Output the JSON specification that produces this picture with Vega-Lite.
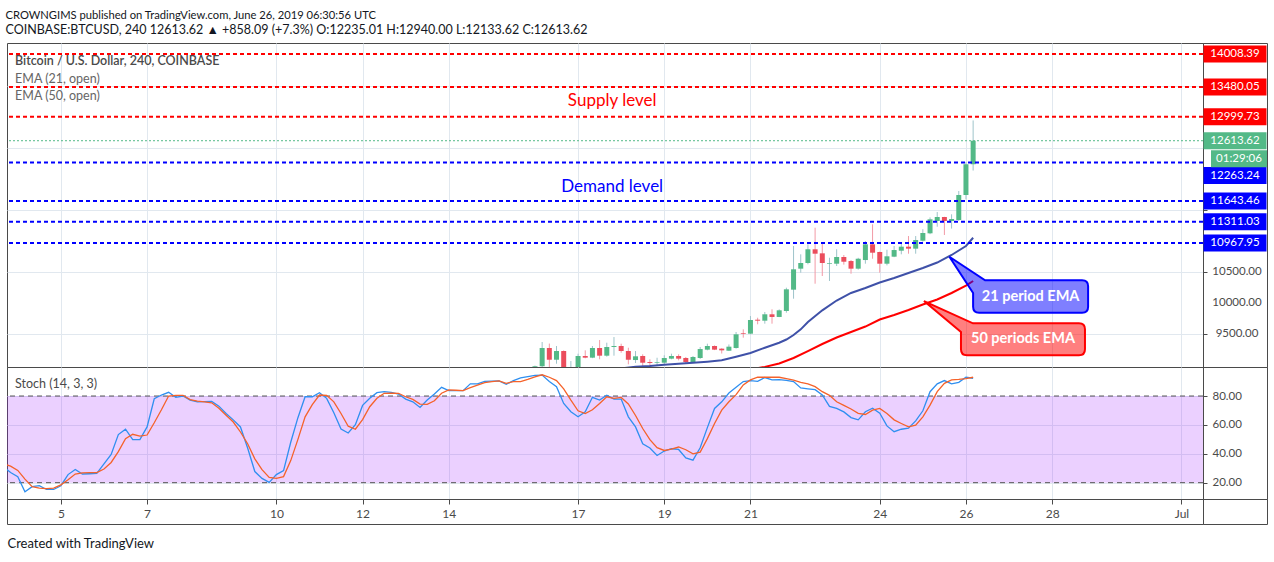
{
"$schema":"https://vega.github.io/schema/vega-lite/v6.json",
"background":"white",
"padding":{"left":5,"top":9,"right":4,"bottom":4},
"title":{"text":"CROWNGIMS published on TradingView.com, June 26, 2019 06:30:56 UTC","subtitle":"COINBASE:BTCUSD, 240  12613.62 ▲ +858.09 (+7.3%)  O:12235.01  H:12940.00  L:12133.62  C:12613.62","anchor":"start","font":"Lato","fontSize":11.2,"fontWeight":"normal","color":"#131722","subtitleFont":"Lato","subtitleFontSize":12.5,"subtitleColor":"#131722","subtitlePadding":3,"offset":6},
"datasets":{
"candles":[
{"t":"2019-06-16T00:00Z","o":8950,"h":8995,"l":8800,"c":8985},
{"t":"2019-06-16T04:00Z","o":8985,"h":9375,"l":8880,"c":9279},
{"t":"2019-06-16T08:00Z","o":9279,"h":9350,"l":8960,"c":9090},
{"t":"2019-06-16T12:00Z","o":9090,"h":9311,"l":9026,"c":9230},
{"t":"2019-06-16T16:00Z","o":9230,"h":9240,"l":8880,"c":8930},
{"t":"2019-06-16T20:00Z","o":8930,"h":9069,"l":8850,"c":8950},
{"t":"2019-06-17T00:00Z","o":8950,"h":9187,"l":8920,"c":9150},
{"t":"2019-06-17T04:00Z","o":9150,"h":9241,"l":9113,"c":9123},
{"t":"2019-06-17T08:00Z","o":9123,"h":9311,"l":9115,"c":9279},
{"t":"2019-06-17T12:00Z","o":9279,"h":9407,"l":9097,"c":9155},
{"t":"2019-06-17T16:00Z","o":9155,"h":9364,"l":9139,"c":9295},
{"t":"2019-06-17T20:00Z","o":9295,"h":9455,"l":9155,"c":9311},
{"t":"2019-06-18T00:00Z","o":9311,"h":9348,"l":9203,"c":9230},
{"t":"2019-06-18T04:00Z","o":9230,"h":9283,"l":9016,"c":9090},
{"t":"2019-06-18T08:00Z","o":9085,"h":9230,"l":9037,"c":9145},
{"t":"2019-06-18T12:00Z","o":9150,"h":9177,"l":8975,"c":9042},
{"t":"2019-06-18T16:00Z","o":9053,"h":9097,"l":8984,"c":9037},
{"t":"2019-06-18T20:00Z","o":9042,"h":9122,"l":8989,"c":9053},
{"t":"2019-06-19T00:00Z","o":9042,"h":9161,"l":9016,"c":9118},
{"t":"2019-06-19T04:00Z","o":9107,"h":9187,"l":9097,"c":9150},
{"t":"2019-06-19T08:00Z","o":9150,"h":9177,"l":9080,"c":9107},
{"t":"2019-06-19T12:00Z","o":9118,"h":9134,"l":9026,"c":9053},
{"t":"2019-06-19T16:00Z","o":9049,"h":9150,"l":9040,"c":9134},
{"t":"2019-06-19T20:00Z","o":9118,"h":9295,"l":9102,"c":9262},
{"t":"2019-06-20T00:00Z","o":9252,"h":9348,"l":9241,"c":9311},
{"t":"2019-06-20T04:00Z","o":9311,"h":9320,"l":9245,"c":9252},
{"t":"2019-06-20T08:00Z","o":9268,"h":9275,"l":9190,"c":9241},
{"t":"2019-06-20T12:00Z","o":9235,"h":9336,"l":9230,"c":9300},
{"t":"2019-06-20T16:00Z","o":9279,"h":9536,"l":9268,"c":9499},
{"t":"2019-06-20T20:00Z","o":9520,"h":9579,"l":9445,"c":9509},
{"t":"2019-06-21T00:00Z","o":9509,"h":9793,"l":9499,"c":9729},
{"t":"2019-06-21T04:00Z","o":9734,"h":9766,"l":9660,"c":9718},
{"t":"2019-06-21T08:00Z","o":9718,"h":9858,"l":9670,"c":9821},
{"t":"2019-06-21T12:00Z","o":9821,"h":9901,"l":9670,"c":9778},
{"t":"2019-06-21T16:00Z","o":9778,"h":9900,"l":9775,"c":9885},
{"t":"2019-06-21T20:00Z","o":9874,"h":10249,"l":9847,"c":10223},
{"t":"2019-06-22T00:00Z","o":10217,"h":10920,"l":10072,"c":10545},
{"t":"2019-06-22T04:00Z","o":10555,"h":10786,"l":10490,"c":10646},
{"t":"2019-06-22T08:00Z","o":10646,"h":10947,"l":10625,"c":10867},
{"t":"2019-06-22T12:00Z","o":10867,"h":11214,"l":10313,"c":10796},
{"t":"2019-06-22T16:00Z","o":10802,"h":10984,"l":10437,"c":10646},
{"t":"2019-06-22T20:00Z","o":10635,"h":10731,"l":10357,"c":10646},
{"t":"2019-06-23T00:00Z","o":10635,"h":10867,"l":10598,"c":10743},
{"t":"2019-06-23T04:00Z","o":10743,"h":10775,"l":10620,"c":10667},
{"t":"2019-06-23T08:00Z","o":10678,"h":10694,"l":10474,"c":10555},
{"t":"2019-06-23T12:00Z","o":10555,"h":10730,"l":10540,"c":10715},
{"t":"2019-06-23T16:00Z","o":10694,"h":11000,"l":10635,"c":10947},
{"t":"2019-06-23T20:00Z","o":10947,"h":11269,"l":10715,"c":10812},
{"t":"2019-06-24T00:00Z","o":10823,"h":10830,"l":10490,"c":10635},
{"t":"2019-06-24T04:00Z","o":10635,"h":10860,"l":10608,"c":10754},
{"t":"2019-06-24T08:00Z","o":10748,"h":10920,"l":10740,"c":10855},
{"t":"2019-06-24T12:00Z","o":10844,"h":10952,"l":10786,"c":10909},
{"t":"2019-06-24T16:00Z","o":10909,"h":11080,"l":10796,"c":10877},
{"t":"2019-06-24T20:00Z","o":10877,"h":11080,"l":10796,"c":11016},
{"t":"2019-06-25T00:00Z","o":11005,"h":11190,"l":10990,"c":11129},
{"t":"2019-06-25T04:00Z","o":11124,"h":11380,"l":11110,"c":11349},
{"t":"2019-06-25T08:00Z","o":11322,"h":11466,"l":11230,"c":11386},
{"t":"2019-06-25T12:00Z","o":11386,"h":11390,"l":11097,"c":11322},
{"t":"2019-06-25T16:00Z","o":11322,"h":11430,"l":11200,"c":11354},
{"t":"2019-06-25T20:00Z","o":11338,"h":11805,"l":11322,"c":11740},
{"t":"2019-06-26T00:00Z","o":11740,"h":12270,"l":11670,"c":12235},
{"t":"2019-06-26T04:00Z","o":12235.01,"h":12940,"l":12133.62,"c":12613.62}
],
"ema":[
{"t":"2019-06-18T00:00Z","len":"21","v":8950},
{"t":"2019-06-18T08:00Z","len":"21","v":8978},
{"t":"2019-06-18T16:00Z","len":"21","v":8990},
{"t":"2019-06-19T00:00Z","len":"21","v":9010},
{"t":"2019-06-19T08:00Z","len":"21","v":9024},
{"t":"2019-06-19T16:00Z","len":"21","v":9040},
{"t":"2019-06-20T00:00Z","len":"21","v":9058},
{"t":"2019-06-20T08:00Z","len":"21","v":9081},
{"t":"2019-06-20T16:00Z","len":"21","v":9139},
{"t":"2019-06-21T00:00Z","len":"21","v":9198},
{"t":"2019-06-21T08:00Z","len":"21","v":9283},
{"t":"2019-06-21T16:00Z","len":"21","v":9364},
{"t":"2019-06-21T20:00Z","len":"21","v":9415},
{"t":"2019-06-22T00:00Z","len":"21","v":9488},
{"t":"2019-06-22T04:00Z","len":"21","v":9579},
{"t":"2019-06-22T08:00Z","len":"21","v":9697},
{"t":"2019-06-22T16:00Z","len":"21","v":9885},
{"t":"2019-06-23T00:00Z","len":"21","v":10043},
{"t":"2019-06-23T08:00Z","len":"21","v":10164},
{"t":"2019-06-23T16:00Z","len":"21","v":10244},
{"t":"2019-06-24T00:00Z","len":"21","v":10332},
{"t":"2019-06-24T08:00Z","len":"21","v":10405},
{"t":"2019-06-24T16:00Z","len":"21","v":10485},
{"t":"2019-06-25T00:00Z","len":"21","v":10566},
{"t":"2019-06-25T08:00Z","len":"21","v":10654},
{"t":"2019-06-25T16:00Z","len":"21","v":10775},
{"t":"2019-06-26T00:00Z","len":"21","v":10920},
{"t":"2019-06-26T04:00Z","len":"21","v":11053},
{"t":"2019-06-20T16:00Z","len":"50","v":8900},
{"t":"2019-06-21T00:00Z","len":"50","v":8935},
{"t":"2019-06-21T08:00Z","len":"50","v":8975},
{"t":"2019-06-21T16:00Z","len":"50","v":9029},
{"t":"2019-06-22T00:00Z","len":"50","v":9118},
{"t":"2019-06-22T08:00Z","len":"50","v":9230},
{"t":"2019-06-22T16:00Z","len":"50","v":9343},
{"t":"2019-06-23T00:00Z","len":"50","v":9447},
{"t":"2019-06-23T08:00Z","len":"50","v":9536},
{"t":"2019-06-23T16:00Z","len":"50","v":9624},
{"t":"2019-06-24T00:00Z","len":"50","v":9737},
{"t":"2019-06-24T08:00Z","len":"50","v":9810},
{"t":"2019-06-24T16:00Z","len":"50","v":9890},
{"t":"2019-06-25T00:00Z","len":"50","v":9979},
{"t":"2019-06-25T08:00Z","len":"50","v":10059},
{"t":"2019-06-25T16:00Z","len":"50","v":10164},
{"t":"2019-06-26T00:00Z","len":"50","v":10284},
{"t":"2019-06-26T04:00Z","len":"50","v":10357}
],
"levels":[
{"v":14008.39,"kind":"supply"},
{"v":13480.05,"kind":"supply"},
{"v":12999.73,"kind":"supply"},
{"v":12613.62,"kind":"last"},
{"v":12263.24,"kind":"demand"},
{"v":11643.46,"kind":"demand"},
{"v":11311.03,"kind":"demand"},
{"v":10967.95,"kind":"demand"}
],
"stoch":[
{"t":"2019-06-03T16:00Z","k":31,"d":33},
{"t":"2019-06-03T20:00Z","k":27,"d":31.5},
{"t":"2019-06-04T00:00Z","k":24.2,"d":28.5},
{"t":"2019-06-04T04:00Z","k":13.7,"d":22.5},
{"t":"2019-06-04T08:00Z","k":17.2,"d":17.2},
{"t":"2019-06-04T12:00Z","k":17.9,"d":16.3},
{"t":"2019-06-04T16:00Z","k":15.3,"d":15.9},
{"t":"2019-06-04T20:00Z","k":15.3,"d":16.3},
{"t":"2019-06-05T00:00Z","k":17.9,"d":18.5},
{"t":"2019-06-05T04:00Z","k":25.6,"d":22},
{"t":"2019-06-05T08:00Z","k":29.1,"d":26},
{"t":"2019-06-05T12:00Z","k":26,"d":26.8},
{"t":"2019-06-05T16:00Z","k":26.2,"d":27},
{"t":"2019-06-05T20:00Z","k":26.5,"d":27},
{"t":"2019-06-06T00:00Z","k":33,"d":29.5},
{"t":"2019-06-06T04:00Z","k":39.5,"d":34},
{"t":"2019-06-06T08:00Z","k":53.3,"d":41.5},
{"t":"2019-06-06T12:00Z","k":57,"d":50.5},
{"t":"2019-06-06T16:00Z","k":49.8,"d":53.5},
{"t":"2019-06-06T20:00Z","k":49.8,"d":52.3},
{"t":"2019-06-07T00:00Z","k":58.6,"d":53},
{"t":"2019-06-07T04:00Z","k":78.1,"d":61.5},
{"t":"2019-06-07T08:00Z","k":80.7,"d":70.5},
{"t":"2019-06-07T12:00Z","k":82.6,"d":80},
{"t":"2019-06-07T16:00Z","k":79.1,"d":80.5},
{"t":"2019-06-07T20:00Z","k":80,"d":80.5},
{"t":"2019-06-08T00:00Z","k":77.2,"d":77.5},
{"t":"2019-06-08T04:00Z","k":76,"d":76.5},
{"t":"2019-06-08T08:00Z","k":76.1,"d":76},
{"t":"2019-06-08T12:00Z","k":76.3,"d":75.3},
{"t":"2019-06-08T16:00Z","k":73,"d":71.5},
{"t":"2019-06-08T20:00Z","k":67.9,"d":66.7},
{"t":"2019-06-09T00:00Z","k":63.5,"d":62},
{"t":"2019-06-09T04:00Z","k":58.6,"d":55.1},
{"t":"2019-06-09T08:00Z","k":44,"d":47},
{"t":"2019-06-09T12:00Z","k":27.7,"d":36.5},
{"t":"2019-06-09T16:00Z","k":23,"d":29},
{"t":"2019-06-09T20:00Z","k":20.2,"d":23.7},
{"t":"2019-06-10T00:00Z","k":25.6,"d":23},
{"t":"2019-06-10T04:00Z","k":28.4,"d":24.2},
{"t":"2019-06-10T08:00Z","k":48,"d":35.3},
{"t":"2019-06-10T12:00Z","k":65,"d":50},
{"t":"2019-06-10T16:00Z","k":79.5,"d":65.6},
{"t":"2019-06-10T20:00Z","k":79.5,"d":74},
{"t":"2019-06-11T00:00Z","k":82.3,"d":80.7},
{"t":"2019-06-11T04:00Z","k":78.4,"d":80.5},
{"t":"2019-06-11T08:00Z","k":68.4,"d":76},
{"t":"2019-06-11T12:00Z","k":57.2,"d":67.9},
{"t":"2019-06-11T16:00Z","k":54.4,"d":59.1},
{"t":"2019-06-11T20:00Z","k":60.2,"d":57},
{"t":"2019-06-12T00:00Z","k":73.5,"d":63.7},
{"t":"2019-06-12T04:00Z","k":78.5,"d":72.6},
{"t":"2019-06-12T08:00Z","k":82.3,"d":78.4},
{"t":"2019-06-12T12:00Z","k":83,"d":81.9},
{"t":"2019-06-12T16:00Z","k":82.5,"d":82},
{"t":"2019-06-12T20:00Z","k":81.4,"d":81.9},
{"t":"2019-06-13T00:00Z","k":77.9,"d":79.5},
{"t":"2019-06-13T04:00Z","k":76,"d":77.7},
{"t":"2019-06-13T08:00Z","k":72.1,"d":74.4},
{"t":"2019-06-13T12:00Z","k":77.2,"d":74.2},
{"t":"2019-06-13T16:00Z","k":81.4,"d":76.7},
{"t":"2019-06-13T20:00Z","k":86,"d":81.9},
{"t":"2019-06-14T00:00Z","k":83.7,"d":84.2},
{"t":"2019-06-14T04:00Z","k":83.7,"d":84},
{"t":"2019-06-14T08:00Z","k":83.7,"d":83.7},
{"t":"2019-06-14T12:00Z","k":88.4,"d":85.8},
{"t":"2019-06-14T16:00Z","k":88.4,"d":87.5},
{"t":"2019-06-14T20:00Z","k":90.2,"d":89.3},
{"t":"2019-06-15T00:00Z","k":90.3,"d":90},
{"t":"2019-06-15T04:00Z","k":90.5,"d":90.5},
{"t":"2019-06-15T08:00Z","k":88.1,"d":88.8},
{"t":"2019-06-15T12:00Z","k":90.7,"d":90},
{"t":"2019-06-15T16:00Z","k":92.5,"d":90},
{"t":"2019-06-15T20:00Z","k":93.5,"d":91.5},
{"t":"2019-06-16T00:00Z","k":94.3,"d":93.2},
{"t":"2019-06-16T04:00Z","k":94.5,"d":94.7},
{"t":"2019-06-16T08:00Z","k":90,"d":93},
{"t":"2019-06-16T12:00Z","k":86.5,"d":90.7},
{"t":"2019-06-16T16:00Z","k":74.9,"d":85},
{"t":"2019-06-16T20:00Z","k":69.1,"d":77.2},
{"t":"2019-06-17T00:00Z","k":65.6,"d":69.8},
{"t":"2019-06-17T04:00Z","k":69.1,"d":67.9},
{"t":"2019-06-17T08:00Z","k":79.1,"d":70.5},
{"t":"2019-06-17T12:00Z","k":77.2,"d":74.9},
{"t":"2019-06-17T16:00Z","k":80.5,"d":79.5},
{"t":"2019-06-17T20:00Z","k":77.9,"d":78.4},
{"t":"2019-06-18T00:00Z","k":77.9,"d":79},
{"t":"2019-06-18T04:00Z","k":65.6,"d":74.5},
{"t":"2019-06-18T08:00Z","k":58.6,"d":66.5},
{"t":"2019-06-18T12:00Z","k":47,"d":57.5},
{"t":"2019-06-18T16:00Z","k":44,"d":49.8},
{"t":"2019-06-18T20:00Z","k":38.8,"d":44.2},
{"t":"2019-06-19T00:00Z","k":41.9,"d":42.3},
{"t":"2019-06-19T04:00Z","k":43.5,"d":43.3},
{"t":"2019-06-19T08:00Z","k":43,"d":44.7},
{"t":"2019-06-19T12:00Z","k":37.2,"d":42.8},
{"t":"2019-06-19T16:00Z","k":35.6,"d":40},
{"t":"2019-06-19T20:00Z","k":44.2,"d":41.2},
{"t":"2019-06-20T00:00Z","k":58.1,"d":50.5},
{"t":"2019-06-20T04:00Z","k":71.4,"d":61},
{"t":"2019-06-20T08:00Z","k":76,"d":70.2},
{"t":"2019-06-20T12:00Z","k":82.1,"d":76},
{"t":"2019-06-20T16:00Z","k":86,"d":81},
{"t":"2019-06-20T20:00Z","k":90,"d":87.7},
{"t":"2019-06-21T00:00Z","k":90.7,"d":91.2},
{"t":"2019-06-21T04:00Z","k":90.2,"d":93},
{"t":"2019-06-21T08:00Z","k":92.8,"d":93},
{"t":"2019-06-21T12:00Z","k":91.2,"d":93},
{"t":"2019-06-21T16:00Z","k":91.4,"d":93},
{"t":"2019-06-21T20:00Z","k":90.8,"d":92},
{"t":"2019-06-22T00:00Z","k":90,"d":91},
{"t":"2019-06-22T04:00Z","k":85.6,"d":89.5},
{"t":"2019-06-22T08:00Z","k":85,"d":88.4},
{"t":"2019-06-22T12:00Z","k":84.4,"d":86.5},
{"t":"2019-06-22T16:00Z","k":80.7,"d":83},
{"t":"2019-06-22T20:00Z","k":72.8,"d":80.5},
{"t":"2019-06-23T00:00Z","k":71.5,"d":76},
{"t":"2019-06-23T04:00Z","k":69,"d":73.5},
{"t":"2019-06-23T08:00Z","k":65.1,"d":71},
{"t":"2019-06-23T12:00Z","k":63.5,"d":68},
{"t":"2019-06-23T16:00Z","k":69.1,"d":67.2},
{"t":"2019-06-23T20:00Z","k":71.6,"d":70.2},
{"t":"2019-06-24T00:00Z","k":68.1,"d":71.4},
{"t":"2019-06-24T04:00Z","k":59.3,"d":67.9},
{"t":"2019-06-24T08:00Z","k":55.3,"d":63.5},
{"t":"2019-06-24T12:00Z","k":57,"d":61},
{"t":"2019-06-24T16:00Z","k":57.7,"d":58.6},
{"t":"2019-06-24T20:00Z","k":62.8,"d":59.8},
{"t":"2019-06-25T00:00Z","k":69.8,"d":65.6},
{"t":"2019-06-25T04:00Z","k":83,"d":73.7},
{"t":"2019-06-25T08:00Z","k":88.4,"d":83},
{"t":"2019-06-25T12:00Z","k":90.7,"d":88.8},
{"t":"2019-06-25T16:00Z","k":88.4,"d":91.2},
{"t":"2019-06-25T20:00Z","k":89.5,"d":91.5},
{"t":"2019-06-26T00:00Z","k":93,"d":92},
{"t":"2019-06-26T04:00Z","k":92.3,"d":93}
]
},
"columns":2,
"spacing":0,
"bounds":"flush",
"align":"each",
"concat":[
{
"width":1196,"height":324,
"layer":[
{"data":{"name":"candles"},"transform":[{"filter":"datum.c >= datum.o"}],"mark":{"type":"rule","clip":true,"strokeWidth":1,"color":"#9ec4ca"},
 "encoding":{
  "x":{"field":"t","type":"temporal","title":null,"scale":{"type":"utc","domain":[{"year":2019,"month":6,"date":3,"hours":18,"utc":true},{"year":2019,"month":7,"date":1,"hours":12,"utc":true}],"nice":false,"padding":0},
   "axis":{"values":[{"year":2019,"month":6,"date":5,"utc":true},{"year":2019,"month":6,"date":7,"utc":true},{"year":2019,"month":6,"date":10,"utc":true},{"year":2019,"month":6,"date":12,"utc":true},{"year":2019,"month":6,"date":14,"utc":true},{"year":2019,"month":6,"date":17,"utc":true},{"year":2019,"month":6,"date":19,"utc":true},{"year":2019,"month":6,"date":21,"utc":true},{"year":2019,"month":6,"date":24,"utc":true},{"year":2019,"month":6,"date":26,"utc":true},{"year":2019,"month":6,"date":28,"utc":true},{"year":2019,"month":7,"date":1,"utc":true}],"labels":false,"ticks":false,"domain":false,"grid":true,"gridColor":"#e1e8ef"}},
  "y":{"field":"l","type":"quantitative","title":null,"scale":{"domain":[8973,14186],"nice":false,"zero":false,"padding":0},
   "axis":{"orient":"right","values":[9500,10000,10500,11000,11500,12000,12500,13000,13500,14000],"labels":false,"grid":true,"gridColor":"#e1e8ef","domain":false,"tickSize":4,"tickColor":"#4a4a4a"}},
  "y2":{"field":"h"}}},
{"data":{"name":"candles"},"transform":[{"filter":"datum.c < datum.o"}],"mark":{"type":"rule","clip":true,"strokeWidth":1,"color":"#f29aa6"},
 "encoding":{
  "x":{"field":"t","type":"temporal","title":null,"scale":{"type":"utc","domain":[{"year":2019,"month":6,"date":3,"hours":18,"utc":true},{"year":2019,"month":7,"date":1,"hours":12,"utc":true}],"nice":false,"padding":0}},
  "y":{"field":"l","type":"quantitative","title":null,"scale":{"domain":[8973,14186],"nice":false,"zero":false,"padding":0}},
  "y2":{"field":"h"}}},
{"data":{"name":"candles"},"transform":[{"filter":"datum.c >= datum.o"}],"mark":{"type":"bar","width":5,"clip":true,"color":"#53b987"},
 "encoding":{
  "x":{"field":"t","type":"temporal","title":null,"scale":{"type":"utc","domain":[{"year":2019,"month":6,"date":3,"hours":18,"utc":true},{"year":2019,"month":7,"date":1,"hours":12,"utc":true}],"nice":false,"padding":0}},
  "y":{"field":"o","type":"quantitative","title":null,"scale":{"domain":[8973,14186],"nice":false,"zero":false,"padding":0}},
  "y2":{"field":"c"}}},
{"data":{"name":"candles"},"transform":[{"filter":"datum.c < datum.o"}],"mark":{"type":"bar","width":5,"clip":true,"color":"#eb4d5c"},
 "encoding":{
  "x":{"field":"t","type":"temporal","title":null,"scale":{"type":"utc","domain":[{"year":2019,"month":6,"date":3,"hours":18,"utc":true},{"year":2019,"month":7,"date":1,"hours":12,"utc":true}],"nice":false,"padding":0}},
  "y":{"field":"o","type":"quantitative","title":null,"scale":{"domain":[8973,14186],"nice":false,"zero":false,"padding":0}},
  "y2":{"field":"c"}}},
{"data":{"name":"ema"},"transform":[{"filter":"datum.len == '21'"}],"mark":{"type":"line","clip":true,"color":"#3f51a8","strokeWidth":2},
 "encoding":{
  "x":{"field":"t","type":"temporal","title":null,"scale":{"type":"utc","domain":[{"year":2019,"month":6,"date":3,"hours":18,"utc":true},{"year":2019,"month":7,"date":1,"hours":12,"utc":true}],"nice":false,"padding":0}},
  "y":{"field":"v","type":"quantitative","title":null,"scale":{"domain":[8973,14186],"nice":false,"zero":false,"padding":0}}}},
{"data":{"name":"ema"},"transform":[{"filter":"datum.len == '50'"}],"mark":{"type":"line","clip":true,"color":"#ff0000","strokeWidth":2},
 "encoding":{
  "x":{"field":"t","type":"temporal","title":null,"scale":{"type":"utc","domain":[{"year":2019,"month":6,"date":3,"hours":18,"utc":true},{"year":2019,"month":7,"date":1,"hours":12,"utc":true}],"nice":false,"padding":0}},
  "y":{"field":"v","type":"quantitative","title":null,"scale":{"domain":[8973,14186],"nice":false,"zero":false,"padding":0}}}},
{"data":{"name":"levels"},"transform":[{"filter":"datum.kind == 'supply'"}],"mark":{"type":"rule","strokeWidth":2,"strokeDash":[4,3],"color":"#ff0000"},
 "encoding":{
  "y":{"field":"v","type":"quantitative","title":null,"scale":{"domain":[8973,14186],"nice":false,"zero":false,"padding":0}}}},
{"data":{"name":"levels"},"transform":[{"filter":"datum.kind == 'demand'"}],"mark":{"type":"rule","strokeWidth":2,"strokeDash":[4,3],"color":"#0000ff"},
 "encoding":{
  "y":{"field":"v","type":"quantitative","title":null,"scale":{"domain":[8973,14186],"nice":false,"zero":false,"padding":0}}}},
{"data":{"name":"levels"},"transform":[{"filter":"datum.kind == 'last'"}],"mark":{"type":"rule","strokeWidth":1,"strokeDash":[2,2],"color":"#53b987"},
 "encoding":{
  "y":{"field":"v","type":"quantitative","title":null,"scale":{"domain":[8973,14186],"nice":false,"zero":false,"padding":0}}}},
{"data":{"values":[{"t":"2019-06-17T19:00Z","p":13253,"label":"Supply level"}]},"mark":{"type":"text","color":"#ff0000","fontSize":17,"align":"center","baseline":"middle"},
 "encoding":{
  "x":{"field":"t","type":"temporal","title":null,"scale":{"type":"utc","domain":[{"year":2019,"month":6,"date":3,"hours":18,"utc":true},{"year":2019,"month":7,"date":1,"hours":12,"utc":true}],"nice":false,"padding":0}},
  "y":{"field":"p","type":"quantitative","title":null,"scale":{"domain":[8973,14186],"nice":false,"zero":false,"padding":0}},
  "text":{"field":"label"}}},
{"data":{"values":[{"t":"2019-06-17T19:00Z","p":11869,"label":"Demand level"}]},"mark":{"type":"text","color":"#0000ff","fontSize":17,"align":"center","baseline":"middle"},
 "encoding":{
  "x":{"field":"t","type":"temporal","title":null,"scale":{"type":"utc","domain":[{"year":2019,"month":6,"date":3,"hours":18,"utc":true},{"year":2019,"month":7,"date":1,"hours":12,"utc":true}],"nice":false,"padding":0}},
  "y":{"field":"p","type":"quantitative","title":null,"scale":{"domain":[8973,14186],"nice":false,"zero":false,"padding":0}},
  "text":{"field":"label"}}},
{"data":{"values":[{"t":"2019-06-03T22:30Z","p":13896,"label":"Bitcoin / U.S. Dollar, 240, COINBASE"}]},"mark":{"type":"text","color":"#4a4a4a","fontSize":12.5,"fontWeight":600,"align":"left","baseline":"middle"},
 "encoding":{
  "x":{"field":"t","type":"temporal","title":null,"scale":{"type":"utc","domain":[{"year":2019,"month":6,"date":3,"hours":18,"utc":true},{"year":2019,"month":7,"date":1,"hours":12,"utc":true}],"nice":false,"padding":0}},
  "y":{"field":"p","type":"quantitative","title":null,"scale":{"domain":[8973,14186],"nice":false,"zero":false,"padding":0}},
  "text":{"field":"label"}}},
{"data":{"values":[{"t":"2019-06-03T22:30Z","p":13607,"label":"EMA (21, open)"},{"t":"2019-06-03T22:30Z","p":13333,"label":"EMA (50, open)"}]},"mark":{"type":"text","color":"#666666","fontSize":12.5,"align":"left","baseline":"middle"},
 "encoding":{
  "x":{"field":"t","type":"temporal","title":null,"scale":{"type":"utc","domain":[{"year":2019,"month":6,"date":3,"hours":18,"utc":true},{"year":2019,"month":7,"date":1,"hours":12,"utc":true}],"nice":false,"padding":0}},
  "y":{"field":"p","type":"quantitative","title":null,"scale":{"domain":[8973,14186],"nice":false,"zero":false,"padding":0}},
  "text":{"field":"label"}}},
{"data":{"values":[{"t":"2019-06-27T12:00Z","p":10107}]},"mark":{"type":"point","shape":"M -0.91 -0.324 L 1.03 -0.324 Q 1.15 -0.324 1.15 -0.204 L 1.15 0.204 Q 1.15 0.324 1.03 0.324 L -1.03 0.324 Q -1.15 0.324 -1.15 0.204 L -1.15 -0.07 L -1.624 -0.796 Z","size":10000,"filled":true,"fill":"#0000ff","fillOpacity":0.5,"stroke":"#0000ff","strokeOpacity":1,"strokeWidth":2,"opacity":1,"clip":false},
 "encoding":{
  "x":{"field":"t","type":"temporal","title":null,"scale":{"type":"utc","domain":[{"year":2019,"month":6,"date":3,"hours":18,"utc":true},{"year":2019,"month":7,"date":1,"hours":12,"utc":true}],"nice":false,"padding":0}},
  "y":{"field":"p","type":"quantitative","title":null,"scale":{"domain":[8973,14186],"nice":false,"zero":false,"padding":0}}}},
{"data":{"values":[{"t":"2019-06-27T07:45Z","p":9418}]},"mark":{"type":"point","shape":"M -1.0 -0.32 L 1.12 -0.32 Q 1.24 -0.32 1.24 -0.2 L 1.24 0.2 Q 1.24 0.32 1.12 0.32 L -1.12 0.32 Q -1.24 0.32 -1.24 0.2 L -1.24 -0.146 L -1.98 -0.766 Z","size":10000,"filled":true,"fill":"#ff0000","fillOpacity":0.5,"stroke":"#ff0000","strokeOpacity":1,"strokeWidth":2,"opacity":1,"clip":false},
 "encoding":{
  "x":{"field":"t","type":"temporal","title":null,"scale":{"type":"utc","domain":[{"year":2019,"month":6,"date":3,"hours":18,"utc":true},{"year":2019,"month":7,"date":1,"hours":12,"utc":true}],"nice":false,"padding":0}},
  "y":{"field":"p","type":"quantitative","title":null,"scale":{"domain":[8973,14186],"nice":false,"zero":false,"padding":0}}}},
{"data":{"values":[{"t":"2019-06-27T12:00Z","p":10107,"label":"21 period EMA"},{"t":"2019-06-27T07:45Z","p":9418,"label":"50 periods EMA"}]},"mark":{"type":"text","color":"white","fontSize":14.5,"fontWeight":"bold","align":"center","baseline":"middle"},
 "encoding":{
  "x":{"field":"t","type":"temporal","title":null,"scale":{"type":"utc","domain":[{"year":2019,"month":6,"date":3,"hours":18,"utc":true},{"year":2019,"month":7,"date":1,"hours":12,"utc":true}],"nice":false,"padding":0}},
  "y":{"field":"p","type":"quantitative","title":null,"scale":{"domain":[8973,14186],"nice":false,"zero":false,"padding":0}},
  "text":{"field":"label"}}}
]
},
{
"width":64,"height":324,
"layer":[
{"data":{"values":[{"v":9500},{"v":10000},{"v":10500}]},"mark":{"type":"text","color":"#4a4a4a","fontSize":11.5,"align":"center","baseline":"middle","xOffset":2},
 "encoding":{
  "y":{"field":"v","type":"quantitative","title":null,"axis":null,"scale":{"domain":[8973,14186],"nice":false,"zero":false,"padding":0}},
  "text":{"field":"v","type":"quantitative","format":".2f"}}},
{"data":{"name":"levels"},"transform":[{"filter":"datum.kind == 'supply'"}],"mark":{"type":"tick","orient":"horizontal","size":63,"thickness":17,"opacity":1,"color":"#ff0000"},
 "encoding":{
  "y":{"field":"v","type":"quantitative","title":null,"axis":null,"scale":{"domain":[8973,14186],"nice":false,"zero":false,"padding":0}}}},
{"data":{"name":"levels"},"transform":[{"filter":"datum.kind == 'last'"}],"mark":{"type":"tick","orient":"horizontal","size":63,"thickness":17,"opacity":1,"color":"#53b987"},
 "encoding":{
  "y":{"field":"v","type":"quantitative","title":null,"axis":null,"scale":{"domain":[8973,14186],"nice":false,"zero":false,"padding":0}}}},
{"data":{"name":"levels"},"transform":[{"filter":"datum.kind == 'demand' && datum.v != 12263.24"}],"mark":{"type":"tick","orient":"horizontal","size":63,"thickness":17,"opacity":1,"color":"#0000ff"},
 "encoding":{
  "y":{"field":"v","type":"quantitative","title":null,"axis":null,"scale":{"domain":[8973,14186],"nice":false,"zero":false,"padding":0}}}},
{"data":{"name":"levels"},"transform":[{"filter":"datum.v == 12263.24"}],"mark":{"type":"tick","orient":"horizontal","size":63,"thickness":17,"opacity":1,"yOffset":13,"color":"#0000ff"},
 "encoding":{
  "y":{"field":"v","type":"quantitative","title":null,"axis":null,"scale":{"domain":[8973,14186],"nice":false,"zero":false,"padding":0}}}},
{"data":{"name":"levels"},"transform":[{"filter":"datum.kind == 'last'"}],"mark":{"type":"tick","orient":"horizontal","size":56,"thickness":17,"opacity":1,"yOffset":18,"xOffset":4,"color":"#53b987"},
 "encoding":{
  "y":{"field":"v","type":"quantitative","title":null,"axis":null,"scale":{"domain":[8973,14186],"nice":false,"zero":false,"padding":0}}}},
{"data":{"name":"levels"},"transform":[{"filter":"datum.v != 12263.24"}],"mark":{"type":"text","color":"white","fontSize":11.5,"align":"center","baseline":"middle"},
 "encoding":{
  "y":{"field":"v","type":"quantitative","title":null,"axis":null,"scale":{"domain":[8973,14186],"nice":false,"zero":false,"padding":0}},
  "text":{"field":"v","type":"quantitative","format":".2f"}}},
{"data":{"name":"levels"},"transform":[{"filter":"datum.v == 12263.24"}],"mark":{"type":"text","color":"white","fontSize":11.5,"align":"center","baseline":"middle","yOffset":13},
 "encoding":{
  "y":{"field":"v","type":"quantitative","title":null,"axis":null,"scale":{"domain":[8973,14186],"nice":false,"zero":false,"padding":0}},
  "text":{"field":"v","type":"quantitative","format":".2f"}}},
{"data":{"values":[{"v":12613.62,"txt":"01:29:06"}]},"mark":{"type":"text","color":"white","fontSize":11.5,"align":"center","baseline":"middle","yOffset":18,"xOffset":4},
 "encoding":{
  "y":{"field":"v","type":"quantitative","title":null,"axis":null,"scale":{"domain":[8973,14186],"nice":false,"zero":false,"padding":0}},
  "text":{"field":"txt"}}}
]
},
{
"width":1196,"height":132,
"layer":[
{"data":{"values":[{"hi":80,"lo":20}]},"mark":{"type":"rect","color":"#9915ff","opacity":0.2},
 "encoding":{
  "y":{"field":"hi","type":"quantitative","title":null,"scale":{"domain":[8.7,100.1],"nice":false,"zero":false,"padding":0},
   "axis":{"orient":"right","values":[20,40,60,80],"format":".2f","labelOverlap":false,"grid":true,"gridColor":"#e1e8ef","domain":false,"tickSize":4,"tickColor":"#4a4a4a","labelColor":"#4a4a4a","labelFontSize":11.5,"labelPadding":5}},
  "y2":{"field":"lo"}}},
{"data":{"values":[{"lv":20},{"lv":80}]},"mark":{"type":"rule","color":"#555555","strokeWidth":1,"strokeDash":[5,4]},
 "encoding":{
  "y":{"field":"lv","type":"quantitative","title":null,"scale":{"domain":[8.7,100.1],"nice":false,"zero":false,"padding":0}}}},
{"data":{"name":"stoch"},"mark":{"type":"line","clip":true,"color":"#2f8ff0","strokeWidth":1.3},
 "encoding":{
  "x":{"field":"t","type":"temporal","scale":{"type":"utc","domain":[{"year":2019,"month":6,"date":3,"hours":18,"utc":true},{"year":2019,"month":7,"date":1,"hours":12,"utc":true}],"nice":false,"padding":0},
   "axis":{"values":[{"year":2019,"month":6,"date":5,"utc":true},{"year":2019,"month":6,"date":7,"utc":true},{"year":2019,"month":6,"date":10,"utc":true},{"year":2019,"month":6,"date":12,"utc":true},{"year":2019,"month":6,"date":14,"utc":true},{"year":2019,"month":6,"date":17,"utc":true},{"year":2019,"month":6,"date":19,"utc":true},{"year":2019,"month":6,"date":21,"utc":true},{"year":2019,"month":6,"date":24,"utc":true},{"year":2019,"month":6,"date":26,"utc":true},{"year":2019,"month":6,"date":28,"utc":true},{"year":2019,"month":7,"date":1,"utc":true}],
    "labelExpr":"utcdate(datum.value) == 1 ? 'Jul' : '' + utcdate(datum.value)","labelFlush":false,"labelOverlap":false,"grid":true,"gridColor":"#e1e8ef","domain":false,"tickSize":5,"tickColor":"#4a4a4a","labelColor":"#4a4a4a","labelFontSize":12,"labelPadding":4,
    "title":"Created with TradingView","titleAnchor":"start","titleAlign":"left","titlePadding":18,"titleFontSize":13,"titleFontWeight":"normal","titleColor":"#131722"}},
  "y":{"field":"k","type":"quantitative","title":null,"scale":{"domain":[8.7,100.1],"nice":false,"zero":false,"padding":0}}}},
{"data":{"name":"stoch"},"mark":{"type":"line","clip":true,"color":"#f5622a","strokeWidth":1.3},
 "encoding":{
  "x":{"field":"t","type":"temporal","scale":{"type":"utc","domain":[{"year":2019,"month":6,"date":3,"hours":18,"utc":true},{"year":2019,"month":7,"date":1,"hours":12,"utc":true}],"nice":false,"padding":0}},
  "y":{"field":"d","type":"quantitative","title":null,"scale":{"domain":[8.7,100.1],"nice":false,"zero":false,"padding":0}}}},
{"data":{"values":[{"t":"2019-06-03T22:30Z","s":88.3,"label":"Stoch (14, 3, 3)"}]},"mark":{"type":"text","color":"#4a4a4a","fontSize":12.5,"align":"left","baseline":"middle"},
 "encoding":{
  "x":{"field":"t","type":"temporal","scale":{"type":"utc","domain":[{"year":2019,"month":6,"date":3,"hours":18,"utc":true},{"year":2019,"month":7,"date":1,"hours":12,"utc":true}],"nice":false,"padding":0}},
  "y":{"field":"s","type":"quantitative","title":null,"scale":{"domain":[8.7,100.1],"nice":false,"zero":false,"padding":0}},
  "text":{"field":"label"}}}
]
},
{
"width":64,"height":132,
"data":{"values":[{"lv":50}]},
"mark":{"type":"rule","opacity":0},
"encoding":{"y":{"field":"lv","type":"quantitative","axis":null}}
},
{
"width":1196,"height":25,
"data":{"values":[{"lv":50}]},
"mark":{"type":"rule","opacity":0},
"encoding":{"y":{"field":"lv","type":"quantitative","axis":null}}
},
{
"width":64,"height":25,
"data":{"values":[{"lv":50}]},
"mark":{"type":"rule","opacity":0},
"encoding":{"y":{"field":"lv","type":"quantitative","axis":null}}
}
],
"config":{"font":"Lato","view":{"stroke":"#4a4a4a","strokeWidth":1},"axis":{"labelFont":"Lato","titleFont":"Lato"},"text":{"font":"Lato"}}
}
